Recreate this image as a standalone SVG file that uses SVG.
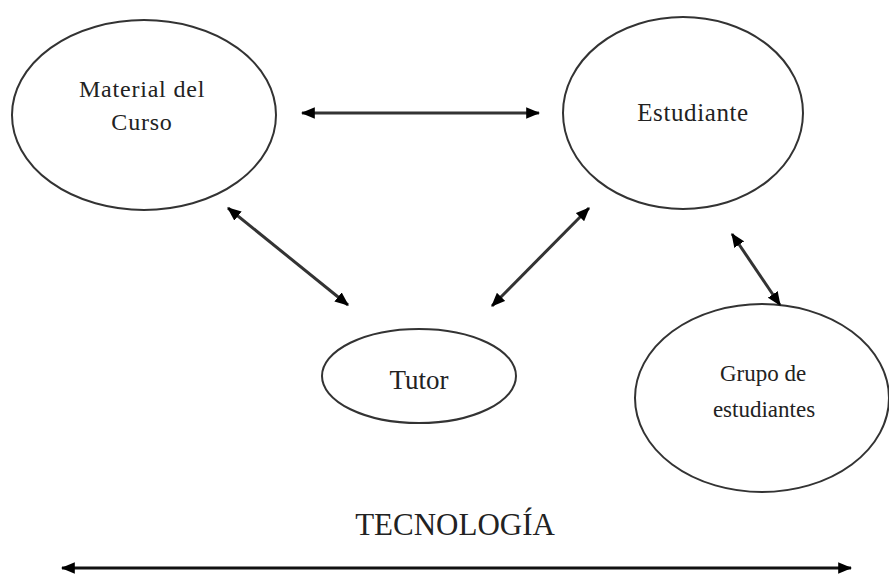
<svg xmlns="http://www.w3.org/2000/svg" width="889" height="574" viewBox="0 0 889 574">
<style>
.node ellipse{fill:#fff;stroke:#333;stroke-width:2}
.lbl{font-family:"Liberation Serif","Times New Roman",serif;fill:#222;text-anchor:middle}
.conn line{stroke:#333;stroke-width:3;marker-start:url(#ah);marker-end:url(#ah)}
</style>
<defs>
<marker id="ah" viewBox="0 0 12 10" refX="11" refY="5" markerWidth="14" markerHeight="12" markerUnits="userSpaceOnUse" orient="auto-start-reverse">
<path d="M0,0 L12,5 L0,10 Z" fill="#000"/>
</marker>
</defs>
<rect width="889" height="574" fill="#fff"/>
<g id="material" class="node">
<ellipse cx="144" cy="115" rx="132" ry="95"/>
<text class="lbl" x="142" y="97" font-size="24" letter-spacing="0.8">Material del</text>
<text class="lbl" x="142" y="130" font-size="24" letter-spacing="0.8">Curso</text>
</g>
<g id="estudiante" class="node">
<ellipse cx="683" cy="113" rx="120" ry="96"/>
<text class="lbl" x="693" y="121" font-size="25" letter-spacing="0.6">Estudiante</text>
</g>
<g id="tutor" class="node">
<ellipse cx="419" cy="376" rx="97" ry="47"/>
<text class="lbl" x="419" y="389" font-size="27">Tutor</text>
</g>
<g id="grupo" class="node">
<ellipse cx="762" cy="398" rx="127" ry="94"/>
<text class="lbl" x="763" y="381" font-size="23">Grupo de</text>
<text class="lbl" x="764" y="417" font-size="23">estudiantes</text>
</g>
<g id="tecnologia">
<text class="lbl" x="455" y="535" font-size="31" fill="#333">TECNOLOGÍA</text>
</g>
<g id="connectors" class="conn">
<line x1="302" y1="113" x2="539" y2="113"/>
<line x1="228" y1="208" x2="348" y2="305"/>
<line x1="589" y1="208" x2="492" y2="306"/>
<line x1="732" y1="234" x2="780" y2="305"/>
<line x1="62" y1="568" x2="851" y2="568" style="stroke:#111"/>
</g>
</svg>
